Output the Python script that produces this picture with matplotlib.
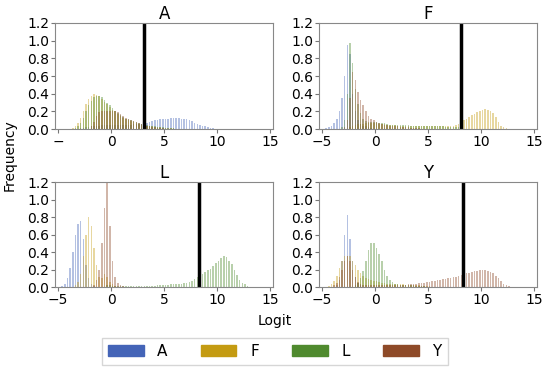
import numpy as np
import matplotlib.pyplot as plt

# histogram bin width (logit units) and colours
bin_w = 0.25
colors = {'A': '#4464b7', 'F': '#c49b12', 'L': '#4f8a2e', 'Y': '#8e4a28'}
panels = ['A', 'F', 'L', 'Y']
thresholds = [3.1, 8.1, 8.3, 8.3]
y_ticks = [0.0, 0.2, 0.4, 0.6, 0.8, 1.0, 1.2]
x_ticks = [-5, 0, 5, 10, 15]

# ---- panel A: (start of first bin, bin heights)
pA_A_start = -3.0
pA_A = [0.01, 0.01, 0.02, 0.02, 0.03, 0.03, 0.04, 0.04, 0.05, 0.05, 0.05, 0.05,
        0.05, 0.05, 0.05, 0.05, 0.05, 0.05, 0.05, 0.05, 0.06, 0.06, 0.06, 0.06,
        0.06, 0.07, 0.08, 0.09, 0.10, 0.10, 0.11, 0.12, 0.12, 0.12, 0.13, 0.13,
        0.13, 0.13, 0.12, 0.12, 0.11, 0.10, 0.09, 0.07, 0.06, 0.05, 0.04, 0.03,
        0.02, 0.01, 0.01, 0.005]
pA_F_start = -3.75
pA_F = [0.01, 0.03, 0.07, 0.13, 0.20, 0.28, 0.34,
        0.38, 0.40, 0.39, 0.37, 0.34, 0.31, 0.28, 0.25,
        0.22, 0.20, 0.17, 0.15, 0.13, 0.11, 0.10, 0.09,
        0.08, 0.07, 0.06, 0.05, 0.05, 0.04, 0.03, 0.03,
        0.02, 0.02, 0.02, 0.01, 0.01, 0.01, 0.01, 0.01]
pA_L_start = -3.5
pA_L = [0.01, 0.03, 0.07, 0.13, 0.20, 0.27,
        0.32, 0.36, 0.38, 0.38, 0.36, 0.33, 0.30, 0.27,
        0.24, 0.21, 0.18, 0.16, 0.14, 0.12, 0.11, 0.10,
        0.09, 0.08, 0.07, 0.06, 0.05, 0.05, 0.04, 0.03,
        0.03, 0.02, 0.02, 0.02, 0.01, 0.01, 0.01, 0.01]
pA_Y_start = -2.0
pA_Y = [0.03, 0.08, 0.15, 0.19, 0.20, 0.20, 0.20, 0.20,
        0.20, 0.20, 0.19, 0.17, 0.15, 0.13, 0.12, 0.10,
        0.09, 0.08, 0.07, 0.06, 0.05, 0.04, 0.03, 0.02,
        0.02, 0.01, 0.01, 0.01]

# ---- panel F
pF_A_start = -4.75
pF_A = [0.01, 0.02, 0.04, 0.07, 0.12, 0.20, 0.35, 0.60, 0.95, 0.85, 0.40, 0.20,
        0.10, 0.06, 0.04, 0.03, 0.02, 0.01]
pF_F_start = -2.5
pF_F = [0.02, 0.04, 0.05, 0.06, 0.06, 0.06, 0.07, 0.07, 0.07, 0.07,
        0.07, 0.06, 0.06, 0.06, 0.05, 0.05, 0.05, 0.05,
        0.04, 0.04, 0.04, 0.04, 0.04, 0.04, 0.04, 0.04,
        0.03, 0.03, 0.03, 0.03, 0.03, 0.03, 0.03, 0.03,
        0.03, 0.03, 0.03, 0.03, 0.04, 0.04, 0.05, 0.06,
        0.08, 0.10, 0.12, 0.14, 0.16, 0.17, 0.19, 0.20, 0.22, 0.23,
        0.22, 0.21, 0.18, 0.14, 0.08, 0.04, 0.02, 0.01]
pF_L_start = -3.25
pF_L = [0.02, 0.10, 0.40, 0.97, 0.75, 0.45, 0.28, 0.18, 0.12, 0.09,
        0.08, 0.08, 0.08, 0.08, 0.07, 0.07, 0.07, 0.06,
        0.05, 0.05, 0.05, 0.05, 0.05, 0.05, 0.05, 0.05,
        0.04, 0.04, 0.04, 0.03, 0.03, 0.03, 0.03, 0.03,
        0.03, 0.03, 0.03, 0.03, 0.03, 0.02, 0.02, 0.02, 0.02, 0.02, 0.02]
pF_Y_start = -3.0
pF_Y = [0.02, 0.10, 0.35, 0.65, 0.55, 0.42, 0.33, 0.27, 0.20, 0.15, 0.12, 0.10,
        0.08, 0.07, 0.06, 0.05, 0.05, 0.04, 0.04, 0.03, 0.03, 0.02, 0.02,
        0.02, 0.02, 0.01, 0.01, 0.01, 0.01]

# ---- panel L
pL_A_start = -4.75
pL_A = [0.01, 0.04, 0.10, 0.22, 0.40, 0.60, 0.72, 0.75, 0.55, 0.25, 0.10, 0.03, 0.01]
pL_F_start = -3.5
pL_F = [0.02, 0.06, 0.15, 0.35, 0.60, 0.80, 0.70, 0.45, 0.25, 0.12, 0.10, 0.15,
        0.12, 0.06, 0.03, 0.01]
pL_L_start = -0.5
pL_L = [0.02, 0.02, 0.01, 0.01, 0.01, 0.01, 0.01, 0.01, 0.01, 0.01, 0.01,
        0.01, 0.01, 0.01, 0.01, 0.01, 0.01, 0.01, 0.01, 0.02, 0.02, 0.02,
        0.02, 0.02, 0.03, 0.03, 0.03, 0.04, 0.04, 0.05, 0.05, 0.06, 0.07, 0.09,
        0.11, 0.13, 0.15, 0.17, 0.19, 0.21, 0.24, 0.27, 0.30, 0.33, 0.35, 0.34,
        0.30, 0.26, 0.20, 0.14, 0.08, 0.05, 0.03, 0.01]
pL_Y_start = -1.75
pL_Y = [0.02, 0.08, 0.20, 0.50, 0.90, 1.20, 0.70, 0.30, 0.12, 0.05, 0.02, 0.01]

# ---- panel Y
pY_A_start = -3.75
pY_A = [0.02, 0.08, 0.30, 0.60, 0.82, 0.55, 0.30, 0.12, 0.05, 0.02]
pY_F_start = -4.5
pY_F = [0.01, 0.03, 0.07, 0.13, 0.22, 0.30, 0.35, 0.36, 0.35, 0.30, 0.25, 0.20,
        0.16, 0.13, 0.10, 0.09, 0.08, 0.07, 0.07, 0.06, 0.05, 0.05, 0.04,
        0.04, 0.03, 0.03, 0.03, 0.03, 0.03, 0.02, 0.02,
        0.02, 0.02, 0.02, 0.02, 0.01, 0.01, 0.01, 0.01]
pY_L_start = -2.0
pY_L = [0.02, 0.05, 0.10, 0.18, 0.30, 0.42, 0.50, 0.50, 0.45, 0.38, 0.30, 0.20,
        0.13, 0.08, 0.06, 0.04, 0.03, 0.02, 0.02, 0.02, 0.02, 0.02, 0.02,
        0.01, 0.01, 0.01, 0.01]
pY_Y_start = -4.0
pY_Y = [0.02, 0.05, 0.12, 0.20, 0.30, 0.35, 0.30, 0.20, 0.12, 0.06, 0.03,
        0.02, 0.02, 0.02, 0.02, 0.02, 0.02, 0.02, 0.02, 0.02, 0.02, 0.02,
        0.02, 0.02, 0.02, 0.02, 0.02, 0.02,
        0.03, 0.03, 0.04, 0.04, 0.05, 0.05, 0.05, 0.06, 0.06, 0.07, 0.07, 0.08,
        0.08, 0.09, 0.09, 0.10, 0.10, 0.11, 0.12, 0.13, 0.14, 0.15, 0.16, 0.16,
        0.17, 0.18, 0.18, 0.19, 0.20, 0.19, 0.18, 0.17, 0.16, 0.13, 0.10, 0.07,
        0.04, 0.02, 0.01]

hist_data = {
    'A': [('A', pA_A_start, pA_A), ('F', pA_F_start, pA_F), ('L', pA_L_start, pA_L), ('Y', pA_Y_start, pA_Y)],
    'F': [('A', pF_A_start, pF_A), ('F', pF_F_start, pF_F), ('L', pF_L_start, pF_L), ('Y', pF_Y_start, pF_Y)],
    'L': [('A', pL_A_start, pL_A), ('F', pL_F_start, pL_F), ('L', pL_L_start, pL_L), ('Y', pL_Y_start, pL_Y)],
    'Y': [('A', pY_A_start, pY_A), ('F', pY_F_start, pY_F), ('L', pY_L_start, pY_L), ('Y', pY_Y_start, pY_Y)],
}

fig = plt.figure(figsize=(5.5, 3.7), dpi=100)
boxes = [[0.100, 0.651, 0.397, 0.287],
         [0.580, 0.651, 0.397, 0.287],
         [0.100, 0.224, 0.397, 0.284],
         [0.580, 0.224, 0.397, 0.284]]

for name, box, thr in zip(panels, boxes, thresholds):
    ax = fig.add_axes(box)
    for aa, start, heights in hist_data[name]:
        x = start + bin_w * np.arange(len(heights)) + bin_w / 2
        ax.bar(x, heights, width=bin_w * 0.6, color=colors[aa], alpha=0.4, linewidth=0)
    ax.axvline(thr, color='black', lw=2.5)
    ax.set_xlim(-5.3, 15.3)
    ax.set_ylim(0, 1.2)
    ax.set_yticks(y_ticks)
    ax.set_yticklabels([f'{v:.1f}' for v in y_ticks])
    ax.set_xticks(x_ticks)
    labels = ['−5', '0', '5', '10', '15']
    if name == 'A':
        labels[0] = '−'
    ax.set_xticklabels(labels)
    ax.tick_params(labelsize=10, length=3, color='#777777', pad=1)
    for s in ax.spines.values():
        s.set_color('#888888')
    ax.set_title(name, fontsize=12, pad=3)

fig.text(0.018, 0.58, 'Frequency', rotation=90, ha='center', va='center', fontsize=10)
fig.text(0.5, 0.133, 'Logit', ha='center', va='center', fontsize=10)

handles = [plt.Rectangle((0, 0), 1, 1, color=colors[k]) for k in panels]
fig.legend(handles, panels, loc='center', bbox_to_anchor=(0.5, 0.05), ncol=4,
           fontsize=11, handlelength=2.3, handleheight=0.7, handletextpad=0.9,
           columnspacing=2.2, frameon=True, fancybox=False, edgecolor='#cccccc',
           borderpad=0.4)

fig.savefig('out.png', dpi=100)
